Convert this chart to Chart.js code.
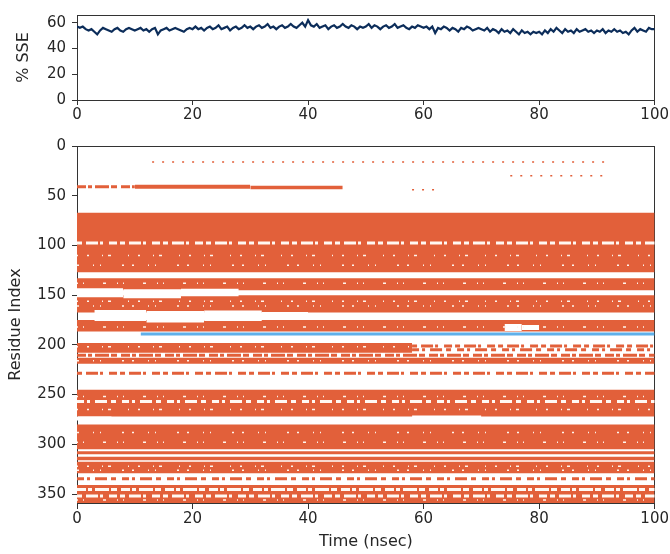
<!DOCTYPE html>
<html lang="en">
<head>
<meta charset="UTF-8" />
<title>SSE timeline</title>
<script src="https://cdn.jsdelivr.net/npm/chart.js"></script>
<style>
  body { margin: 0; background: #ffffff; width: 670px; height: 554px; overflow: hidden; position: relative; }
  .box { position: absolute; left: 0; width: 670px; }
  #top { top: 0; height: 125px; }
  #bottom { top: 125px; height: 429px; }
</style>
</head>
<body>
<div class="box" id="top"><canvas id="sseChart"></canvas></div>
<div class="box" id="bottom"><canvas id="resChart"></canvas></div>
<script>
// axis ticks
const timeTicks = [0, 20, 40, 60, 80, 100];
const sseTicks = [0, 20, 40, 60];
const residueTicks = [0, 50, 100, 150, 200, 250, 300, 350];

// % SSE over time, one value every 0.5 nsec
const sseStep = 0.5;
const sseValues = [
  57, 56, 57, 55, 54, 55, 53, 51, 54, 56,  55, 54, 53, 55, 56, 54, 53, 55, 56, 55,
  54, 55, 56, 54, 55, 53, 55, 56, 51, 54,  55, 56, 54, 55, 56, 55, 54, 53, 55, 56,
  55, 57, 55, 56, 54, 56, 57, 55, 56, 58,  55, 56, 57, 54, 56, 57, 55, 56, 58, 56,
  57, 55, 57, 58, 56, 57, 59, 56, 57, 55,  57, 58, 56, 57, 59, 57, 56, 58, 60, 57,
  62, 58, 57, 59, 56, 57, 58, 55, 57, 58,  56, 57, 59, 57, 56, 58, 57, 55, 57, 56,
  57, 59, 56, 58, 57, 55, 57, 58, 56, 57,  59, 56, 57, 58, 56, 55, 57, 56, 58, 57,
  56, 57, 55, 57, 52, 56, 55, 57, 56, 54,  56, 55, 53, 56, 55, 57, 56, 54, 55, 56,
  55, 54, 56, 53, 55, 54, 52, 55, 53, 54,  52, 55, 53, 51, 54, 52, 53, 51, 53, 52,
  53, 51, 54, 52, 55, 53, 56, 54, 52, 55,  53, 54, 52, 55, 53, 54, 55, 53, 54, 52,
  54, 53, 55, 52, 54, 53, 55, 53, 54, 52,  53, 51, 54, 56, 53, 55, 54, 53, 56, 55,
  55
];

// residue map: [residue from, residue to, time from, time to]
const helixBlocks = [
  [39, 43, 10, 30],
  [40, 43.5, 30, 46],
  [67, 127, 0, 100],
  [133, 145, 0, 100],
  [150, 167.5, 0, 100],
  [175, 186.5, 0, 100],
  [198, 208, 0, 58],
  [213, 219, 0, 100],
  [245, 272, 0, 100],
  [280, 305, 0, 100],
  [307, 310, 0, 100],
  [312.5, 316, 0, 100],
  [317.5, 329, 0, 100],
  [341, 359, 0, 100]
];
const strandBlocks = [
  [187.5, 190.5, 11, 100]
];
const gapBlocks = [
  [143, 152, 0, 8], [144, 153, 8, 18], [143.5, 151, 18, 28],
  [165, 176, 3, 12], [166, 177.5, 12, 22], [165.5, 176, 22, 32], [167, 175, 32, 40],
  [179, 186, 74, 77], [180, 185, 77, 80],
  [272, 276, 0, 6], [271, 274, 58, 70]
];
// runs: [residue, time from, time to]
const helixRuns = [
  [41, 0, 10],
  [201, 58, 100],
  [205, 58, 100],
  [210.5, 0, 100],
  [228.5, 0, 100],
  [334.5, 0, 100]
];
const helixDots = [
  [16, 13, 92],
  [44, 58, 62],
  [30, 75, 92]
];
const gapRuns = [
  [97.5, 0, 100],
  [257, 0, 100],
  [345.5, 0, 100],
  [352, 0, 100]
];
const gapSpecks = [
  [110, 0, 100], [120, 0, 100], [138, 0, 100], [156, 0, 100], [161, 0, 100],
  [182, 0, 100], [202, 0, 58], [216, 0, 100], [252, 0, 100], [265, 0, 100],
  [288, 0, 100], [298, 0, 100], [322, 0, 100], [326, 0, 100], [356, 0, 100]
];

const helixColor = '#e2603a';
const strandColor = '#5fb0ea';
const axisColor = '#333333';
const textColor = '#262626';
const runDashes = [[9, 2, 4, 3, 14, 2, 6, 4], [5, 4, 12, 2, 3, 6, 8, 3], [7, 3, 3, 5, 12, 4, 5, 6]];
const speckDashes = [[1, 9, 2, 13, 1, 5, 3, 17], [2, 14, 1, 6, 1, 21, 2, 8], [1, 5, 1, 19, 3, 11]];

Chart.defaults.font.family = 'DejaVu Sans';
Chart.defaults.font.size = 15;
Chart.defaults.color = textColor;
Chart.defaults.animation = false;

function fixedTicks(list) {
  return axis => { axis.ticks = list.map(v => ({ value: v })); };
}

function frameAxis(position) {
  return {
    type: 'linear',
    position: position,
    display: true,
    min: 0,
    max: 1,
    ticks: { display: false },
    grid: { display: false, drawTicks: false },
    border: { display: true, color: axisColor, width: 1 },
    afterFit: s => { if (s.isHorizontal()) s.height = 0; else s.width = 0; }
  };
}

// top panel: % SSE
new Chart(document.getElementById('sseChart'), {
  type: 'line',
  data: {
    datasets: [{
      data: sseValues.map((v, i) => ({ x: i * sseStep, y: v })),
      borderColor: '#0c2d5a',
      borderWidth: 2.2,
      pointRadius: 0,
      tension: 0,
      fill: false
    }]
  },
  options: {
    responsive: true,
    maintainAspectRatio: false,
    layout: { padding: { top: 13, right: 15, left: 0, bottom: 0 } },
    plugins: { legend: { display: false }, tooltip: { enabled: false } },
    scales: {
      x: {
        type: 'linear', min: 0, max: 100,
        afterBuildTicks: fixedTicks(timeTicks),
        ticks: { padding: 1, color: textColor },
        grid: { drawOnChartArea: false, tickLength: 5, color: axisColor },
        border: { color: axisColor },
        afterFit: s => { s.height = 25; }
      },
      y: {
        type: 'linear', min: 0, max: 66,
        afterBuildTicks: fixedTicks(sseTicks),
        ticks: { padding: 6, color: textColor },
        grid: { drawOnChartArea: false, tickLength: 5, color: axisColor },
        border: { color: axisColor },
        title: { display: true, text: '% SSE', font: { size: 16 }, padding: { top: 14, bottom: 0 } },
        afterFit: s => { s.width = 77; }
      },
      x2: frameAxis('top'),
      y2: frameAxis('right')
    }
  }
});

// bottom panel: residue map
function blockSet(b, color, order) {
  return {
    data: [{ x: b[2], y: b[1] }, { x: b[3], y: b[1] }],
    showLine: true,
    borderColor: 'rgba(0,0,0,0)',
    borderWidth: 1,
    pointRadius: 0,
    backgroundColor: color,
    fill: { value: b[0] },
    order: order
  };
}
function runSet(r, color, width, dash, order) {
  return {
    data: [{ x: r[1], y: r[0] }, { x: r[2], y: r[0] }],
    showLine: true,
    borderColor: color,
    borderWidth: width,
    borderDash: dash,
    pointRadius: 0,
    fill: false,
    order: order
  };
}

const mapSets = [].concat(
  helixBlocks.map(b => blockSet(b, helixColor, 6)),
  gapBlocks.map(b => blockSet(b, '#ffffff', 5)),
  helixRuns.map((r, i) => runSet(r, helixColor, 3, runDashes[i % 3], 4)),
  helixDots.map(r => runSet(r, helixColor, 1.5, [2, 8], 4)),
  gapRuns.map((r, i) => runSet(r, '#fff8f2', 3, runDashes[(i + 1) % 3], 3)),
  gapSpecks.map((r, i) => runSet(r, '#fff4ec', 1.5, speckDashes[i % 3], 3)),
  strandBlocks.map(b => blockSet(b, strandColor, 1))
);

new Chart(document.getElementById('resChart'), {
  type: 'scatter',
  data: { datasets: mapSets },
  options: {
    responsive: true,
    maintainAspectRatio: false,
    layout: { padding: { top: 21, right: 15, left: 0, bottom: 0 } },
    plugins: { legend: { display: false }, tooltip: { enabled: false } },
    scales: {
      x: {
        type: 'linear', min: 0, max: 100,
        afterBuildTicks: fixedTicks(timeTicks),
        ticks: { padding: 1, color: textColor },
        grid: { drawOnChartArea: false, tickLength: 6, color: axisColor },
        border: { color: axisColor },
        title: { display: true, text: 'Time (nsec)', font: { size: 16 }, padding: { top: 0, bottom: 3 } },
        afterFit: s => { s.height = 51; }
      },
      y: {
        type: 'linear', min: 0, max: 359, reverse: true,
        afterBuildTicks: fixedTicks(residueTicks),
        ticks: { padding: 6, color: textColor },
        grid: { drawOnChartArea: false, tickLength: 5, color: axisColor },
        border: { color: axisColor },
        title: { display: true, text: 'Residue Index', font: { size: 16 }, padding: { top: 6, bottom: 0 } },
        afterFit: s => { s.width = 77; }
      },
      x2: frameAxis('top'),
      y2: frameAxis('right')
    }
  }
});
</script>
</body>
</html>
